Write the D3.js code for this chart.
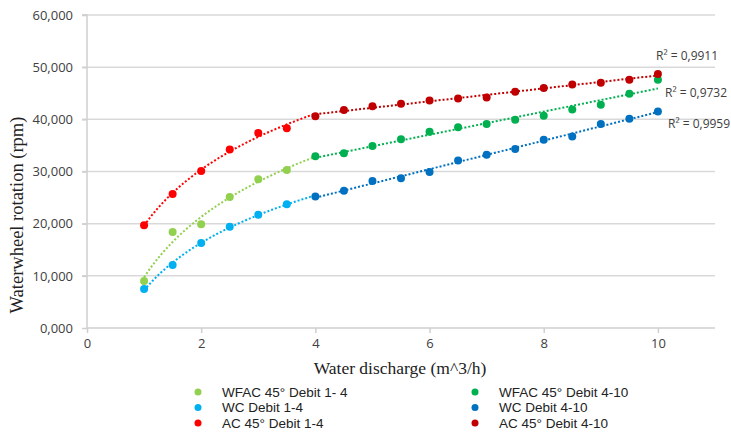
<!DOCTYPE html>
<html>
<head>
<meta charset="utf-8">
<script src="https://cdn.jsdelivr.net/npm/d3@7"></script>
<style>
  body { margin: 0; background: #fff; }
  svg text { font-family: "Open Sans", "Liberation Sans", sans-serif; }
</style>
</head>
<body>
<svg id="chart"></svg>
<script>
const width = 731, height = 433;

// discharge values (m^3/h)
const xLow = [1, 1.5, 2, 2.5, 3, 3.5];
const xHigh = [4, 4.5, 5, 5.5, 6, 6.5, 7, 7.5, 8, 8.5, 9, 9.5, 10];

// rotation (rpm)
const wfacLow = [9.0, 18.4, 19.9, 25.1, 28.5, 30.3];
const wcLow = [7.5, 12.1, 16.3, 19.4, 21.7, 23.7];
const acLow = [19.7, 25.7, 30.1, 34.2, 37.4, 38.3];
const wfacHigh = [32.9, 33.5, 34.9, 36.2, 37.6, 38.5, 39.1, 39.9, 40.7, 41.9, 42.8, 44.9, 47.6];
const wcHigh = [25.2, 26.3, 28.2, 28.7, 29.9, 32.1, 33.2, 34.3, 36.1, 36.7, 39.1, 40.1, 41.5];
const acHigh = [40.6, 41.8, 42.5, 43.0, 43.6, 44.0, 44.2, 45.3, 46.0, 46.7, 47.0, 47.6, 48.7];

const seriesNames = ['WFAC 45° Debit 1- 4', 'WC Debit 1-4', 'AC 45° Debit 1-4',
                     'WFAC 45° Debit 4-10', 'WC Debit 4-10', 'AC 45° Debit 4-10'];
const seriesColors = ['#92d050', '#00b0f0', '#ff0000', '#00b050', '#0070c0', '#c00000'];
const r2Labels = ['R² = 0,9732', 'R² = 0,9959', 'R² = 0,9911'];
const xTicks = [0, 2, 4, 6, 8, 10];
const yTicks = [0, 10, 20, 30, 40, 50, 60];

const series = [
  { name: seriesNames[0], color: seriesColors[0], xs: xLow, ys: wfacLow, fit: 'log', range: [1, 4] },
  { name: seriesNames[1], color: seriesColors[1], xs: xLow, ys: wcLow, fit: 'log', range: [1, 4] },
  { name: seriesNames[2], color: seriesColors[2], xs: xLow, ys: acLow, fit: 'log', range: [1, 4] },
  { name: seriesNames[3], color: seriesColors[3], xs: xHigh, ys: wfacHigh, fit: 'linear', range: [4, 10], r2: r2Labels[0] },
  { name: seriesNames[4], color: seriesColors[4], xs: xHigh, ys: wcHigh, fit: 'linear', range: [4, 10], r2: r2Labels[1] },
  { name: seriesNames[5], color: seriesColors[5], xs: xHigh, ys: acHigh, fit: 'linear', range: [4, 10], r2: r2Labels[2] }
];

const margin = { left: 87, right: 16, top: 15, bottom: 105 };

const svg = d3.select('#chart').attr('width', width).attr('height', height);

const x = d3.scaleLinear().domain([0, 11]).range([margin.left, width - margin.right]);
const y = d3.scaleLinear().domain([0, 60]).range([height - margin.bottom, margin.top]);

// gridlines
svg.append('g')
  .selectAll('line')
  .data(yTicks.slice(1))
  .join('line')
  .attr('x1', x(0) - 5).attr('x2', x(11))
  .attr('y1', d => y(d)).attr('y2', d => y(d))
  .attr('stroke', '#d9d9d9').attr('stroke-width', 1.5);

// axes
const xAxis = svg.append('g')
  .attr('transform', `translate(0,${y(0)})`)
  .call(d3.axisBottom(x).tickValues(xTicks).tickSize(5).tickPadding(6).tickFormat(d3.format('d')));
const yAxis = svg.append('g')
  .attr('transform', `translate(${x(0)},0)`)
  .call(d3.axisLeft(y).tickValues(yTicks).tickSize(5).tickPadding(9)
    .tickFormat(d => d3.format(',')(d) + ',000'));
[xAxis, yAxis].forEach(a => {
  a.select('.domain').attr('stroke', '#cfcfcf').attr('stroke-width', 1.5);
  a.selectAll('.tick line').attr('stroke', '#cfcfcf').attr('stroke-width', 1.5);
  a.selectAll('.tick text').attr('fill', '#404040').style('font-size', '13px');
});
yAxis.select('.domain').attr('d', `M-5,${y(60)}H0V${y(0)}`);
xAxis.select('.domain').attr('d', `M${x(0)},0H${x(11)}`);

// trendlines
function fitLine(s) {
  const xs = s.fit === 'log' ? s.xs.map(Math.log) : s.xs;
  const mx = d3.mean(xs), my = d3.mean(s.ys);
  const b = d3.sum(xs, (v, i) => (v - mx) * (s.ys[i] - my)) / d3.sum(xs, v => (v - mx) * (v - mx));
  const a = my - b * mx;
  return v => a + b * (s.fit === 'log' ? Math.log(v) : v);
}
const line = d3.line().x(d => x(d[0])).y(d => y(d[1]));
series.forEach(s => {
  const f = fitLine(s);
  const pts = d3.range(0, 41).map(i => {
    const v = s.range[0] + (s.range[1] - s.range[0]) * i / 40;
    return [v, f(v)];
  });
  svg.append('path')
    .attr('d', line(pts))
    .attr('fill', 'none')
    .attr('stroke', s.color)
    .attr('stroke-width', 2)
    .attr('stroke-dasharray', '2,2');
});

// points
series.forEach(s => {
  svg.append('g')
    .selectAll('circle')
    .data(s.xs.map((v, i) => [v, s.ys[i]]))
    .join('circle')
    .attr('cx', d => x(d[0])).attr('cy', d => y(d[1]))
    .attr('r', 4)
    .attr('fill', s.color);
});

// R² labels
const r2Pos = [[665, 97], [668, 128], [656, 60]];
series.slice(3).forEach((s, i) => {
  svg.append('text')
    .attr('x', r2Pos[i][0]).attr('y', r2Pos[i][1])
    .attr('fill', '#404040')
    .style('font-size', '12px')
    .text(s.r2);
});

// axis titles
svg.append('text')
  .attr('x', 400).attr('y', 374)
  .attr('text-anchor', 'middle')
  .style('font-family', '"Liberation Serif", serif')
  .style('font-size', '17.5px')
  .attr('fill', '#222')
  .text('Water discharge (m^3/h)');
svg.append('text')
  .attr('transform', 'translate(23,215) rotate(-90)')
  .attr('text-anchor', 'middle')
  .style('font-family', '"Liberation Serif", serif')
  .style('font-size', '18.5px')
  .attr('fill', '#222')
  .text('Waterwheel rotation (rpm)');

// legend
const legend = svg.append('g')
  .selectAll('g')
  .data(series)
  .join('g')
  .attr('transform', (d, i) => `translate(${i < 3 ? 198 : 475},${392 + (i % 3) * 15.5})`);
legend.append('circle').attr('r', 3.5).attr('fill', d => d.color);
legend.append('text')
  .attr('x', 24).attr('y', 4.5)
  .attr('fill', '#222')
  .style('font-family', '"Liberation Sans", sans-serif')
  .style('font-size', '13.5px')
  .text(d => d.name);
</script>
</body>
</html>
